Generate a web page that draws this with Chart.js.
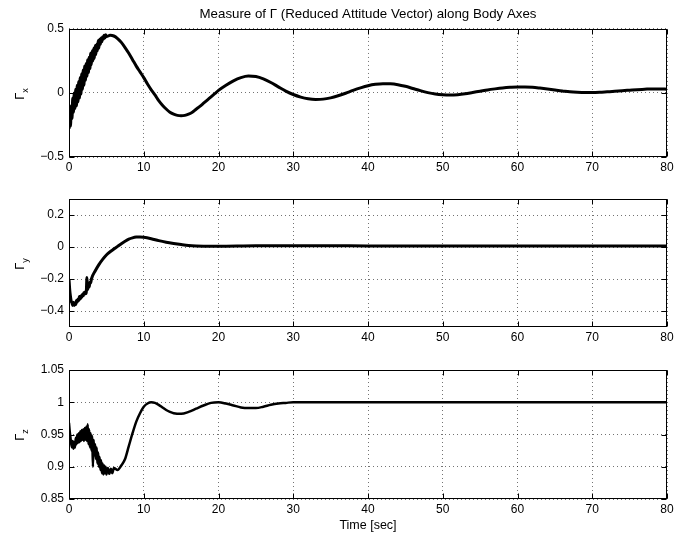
<!DOCTYPE html>
<html><head><meta charset="utf-8">
<script src="https://cdn.jsdelivr.net/npm/chart.js@4"></script>
<style>
html,body{margin:0;padding:0;background:#fff;}
#wrap{position:relative;width:690px;height:538px;overflow:hidden;background:#fff;}
#wrap canvas{position:absolute;left:0;}
.ylab{position:absolute;left:20px;transform:translate(-50%,-50%) rotate(-90deg);font:13px "Liberation Sans",Arial,sans-serif;line-height:13px;white-space:nowrap;color:#000;}
.ylab span{position:relative;top:4px;font-size:9px;}
</style></head><body>
<div id="wrap">
<canvas id="c1" width="690" height="177" style="top:0px"></canvas>
<canvas id="c2" width="690" height="168" style="top:179px"></canvas>
<canvas id="c3" width="690" height="188" style="top:350px"></canvas>
<div class="ylab" style="top:93.5px">Γ<span>x</span></div>
<div class="ylab" style="top:264px">Γ<span>y</span></div>
<div class="ylab" style="top:435px">Γ<span>z</span></div>
</div>
<script>
// ---- data ----
const xTicks = [0,10,20,30,40,50,60,70,80];
const xLabels = ['0','10','20','30','40','50','60','70','80'];
const yTicksX = [-0.5,0,0.5];
const yLabelsX = ['\u22120.5','0','0.5'];
const yTicksY = [-0.4,-0.2,0,0.2];
const yLabelsY = ['\u22120.4','\u22120.2','0','0.2'];
const yTicksZ = [0.85,0.9,0.95,1,1.05];
const yLabelsZ = ['0.85','0.9','0.95','1','1.05'];

const tX = [0,0.1,0.2,0.3,0.4,0.5,0.6,0.7,0.8,0.9,1,1.1,1.2,1.3,1.4,1.5,1.6,1.7,1.8,1.9,2,2.1,2.2,2.3,2.4,2.5,2.6,2.7,2.8,2.9,3,3.1,3.2,3.3,3.4,3.5,3.6,3.7,3.8,3.9,4,4.1,4.2,4.3,4.4,4.5,4.6,4.7,4.8,4.9,5,
 5.5,6,6.5,7,7.5,8,8.5,9,9.5,10,10.5,11,11.5,12,12.5,13,13.5,14,14.5,15,15.5,16,16.5,17,17.5,18,18.5,19,19.5,20,
 21,22,23,24,25,26,27,28,29,30,31,32,33,34,35,36,37,38,39,40,41,42,43,44,45,46,47,48,49,50,51,52,53,54,55,56,57,58,59,60,61,62,63,64,65,66,67,68,69,70,71,72,73,74,75,76,77,78,79,80];
const gammaX = [-0.28,-0.17,-0.26,-0.10,-0.20,-0.04,-0.15,0.00,-0.12,0.03,
 -0.10,0.06,-0.07,0.09,-0.04,0.12,-0.01,0.15,0.03,0.18,
 0.06,0.21,0.10,0.23,0.13,0.26,0.16,0.28,0.19,0.31,
 0.22,0.33,0.25,0.35,0.27,0.37,0.30,0.38,0.33,0.41,
 0.35,0.42,0.38,0.43,0.40,0.44,0.42,0.45,0.43,0.455,0.44,
 0.45,0.445,0.425,0.395,0.355,0.31,0.26,0.21,0.165,0.12,
 0.07,0.025,-0.015,-0.06,-0.095,-0.125,-0.15,-0.165,-0.175,-0.178,
 -0.175,-0.165,-0.15,-0.127,-0.105,-0.08,-0.055,-0.03,-0.005,0.02,
 0.06,0.095,0.12,0.132,0.128,0.11,0.082,0.048,0.015,-0.012,
 -0.032,-0.045,-0.05,-0.048,-0.038,-0.022,-0.002,0.02,0.04,0.057,
 0.068,0.073,0.072,0.065,0.052,0.035,0.018,0.003,-0.008,-0.014,
 -0.016,-0.013,-0.006,0.004,0.014,0.024,0.032,0.039,0.044,0.047,
 0.047,0.044,0.038,0.031,0.023,0.016,0.009,0.005,0.003,0.003,
 0.005,0.009,0.013,0.018,0.022,0.026,0.029,0.032,0.032,0.03];

const tY = [0,0.1,0.2,0.3,0.4,0.5,0.6,0.7,0.8,0.9,1,1.1,1.2,1.3,1.4,1.5,1.6,1.7,1.8,1.9,2,2.1,2.2,2.3,2.4,2.5,2.6,2.7,2.8,2.9,3,
 3.5,4,4.5,5,5.5,6,6.5,7,7.5,8,8.5,9,9.5,10,
 11,12,13,14,15,16,17,18,19,20,
 25,30,35,40,45,50,55,60,65,70,75,80];
const gammaY = [-0.20,-0.27,-0.31,-0.34,-0.35,-0.365,-0.345,-0.365,-0.35,-0.36,
 -0.335,-0.345,-0.325,-0.335,-0.31,-0.325,-0.305,-0.315,-0.295,-0.305,
 -0.285,-0.295,-0.28,-0.29,-0.19,-0.265,-0.235,-0.25,-0.22,-0.225,-0.2,
 -0.15,-0.11,-0.077,-0.05,-0.03,-0.013,0.004,0.021,0.036,0.049,0.057,0.062,0.063,0.061,
 0.052,0.04,0.03,0.022,0.015,0.009,0.006,0.005,0.005,0.005,
 0.008,0.008,0.008,0.007,0.007,0.007,0.007,0.007,0.007,0.007,0.007,0.007];

const tZ = [0,0.1,0.2,0.3,0.4,0.5,0.6,0.7,0.8,0.9,1,1.1,1.2,1.3,1.4,1.5,1.6,1.7,1.8,1.9,2,2.1,2.2,2.3,2.4,2.5,2.6,2.7,2.8,2.9,3,3.1,3.2,3.3,3.4,3.5,3.6,3.7,3.8,3.9,4,4.1,4.2,4.3,4.4,4.5,4.6,4.7,4.8,4.9,5,
 5.2,5.4,5.6,5.8,6,
 6.5,7,7.5,8,8.5,9,9.5,10,10.5,11,11.5,12,12.5,13,13.5,
 14,15,16,17,18,19,20,21,22,23,24,25,26,27,28,29,30,
 35,40,45,50,55,60,65,70,75,80];
const gammaZ = [0.968,0.955,0.945,0.935,0.93,0.94,0.928,0.938,0.93,0.945,
 0.935,0.95,0.937,0.952,0.938,0.955,0.94,0.957,0.942,0.958,
 0.94,0.96,0.942,0.962,0.94,0.966,0.935,0.958,0.93,0.952,
 0.925,0.948,0.90,0.942,0.918,0.935,0.912,0.93,0.905,0.922,
 0.9,0.915,0.895,0.91,0.89,0.905,0.888,0.902,0.89,0.9,0.888,
 0.898,0.889,0.897,0.89,0.898,
 0.895,0.902,0.912,0.932,0.952,0.97,0.983,0.993,0.998,1.0,0.999,0.996,0.992,0.988,0.985,
 0.983,0.982,0.985,0.99,0.995,0.999,1.0,0.998,0.995,0.992,0.991,0.991,0.993,0.996,0.998,0.999,1.0,
 1,1,1,1,1,1,1,1,1,1];

// ---- drawing ----
const FONT = '"Liberation Sans", Arial, Helvetica, sans-serif';

const framePlugin = {
  id: 'frame',
  afterDraw(chart) {
    const {ctx, chartArea: a, scales: {x, y}} = chart;
    const L = Math.round(a.left) + 0.5, R = Math.round(a.right) - 0.5;
    const T = Math.round(a.top) + 0.5, B = Math.round(a.bottom) - 0.5;
    ctx.save();
    ctx.setLineDash([]);
    ctx.strokeStyle = '#000';
    ctx.lineWidth = 1;
    ctx.strokeRect(L, T, R - L, B - T);
    ctx.beginPath();
    x.ticks.forEach(tk => {
      const px = Math.round(x.getPixelForValue(tk.value)) + 0.5;
      ctx.moveTo(px, B); ctx.lineTo(px, B - 5);
      ctx.moveTo(px, T); ctx.lineTo(px, T + 5);
    });
    y.ticks.forEach(tk => {
      const py = Math.round(y.getPixelForValue(tk.value)) + 0.5;
      ctx.moveTo(L, py); ctx.lineTo(L + 5, py);
      ctx.moveTo(R, py); ctx.lineTo(R - 5, py);
    });
    ctx.stroke();
    ctx.restore();
  }
};

function makeChart(id, t, v, cfg) {
  return new Chart(document.getElementById(id), {
    type: 'line',
    data: { datasets: [{
      data: t.map((xx, i) => ({x: xx, y: v[i]})),
      borderColor: '#000', borderWidth: cfg.lw, pointRadius: 0,
      cubicInterpolationMode: 'monotone', fill: false
    }]},
    options: {
      responsive: false, animation: false, devicePixelRatio: 1,
      layout: { padding: { left: 0, right: 23, top: cfg.padTop, bottom: 0 } },
      plugins: {
        legend: { display: false }, tooltip: { enabled: false },
        title: cfg.title || { display: false }
      },
      scales: {
        x: {
          type: 'linear', min: 0, max: 80,
          afterBuildTicks: s => { s.ticks = xTicks.map(value => ({value})); },
          afterFit: s => { s.height = cfg.xh; },
          grid: { color: 'rgba(0,0,0,0.55)', lineWidth: 1, drawTicks: false },
          border: { display: false, dash: [1, 3] },
          ticks: { padding: 3, maxRotation: 0, autoSkip: false, color: '#000',
                   font: { family: FONT, size: 12 }, callback: (val, i) => xLabels[i] },
          title: cfg.xTitle || { display: false }
        },
        y: {
          type: 'linear', min: cfg.yMin, max: cfg.yMax,
          afterBuildTicks: s => { s.ticks = cfg.yT.map(value => ({value})); },
          afterFit: s => { s.width = 69; },
          grid: { color: 'rgba(0,0,0,0.55)', lineWidth: 1, drawTicks: false },
          border: { display: false, dash: [1, 3] },
          ticks: { padding: 5, autoSkip: false, color: '#000',
                   font: { family: FONT, size: 12 }, callback: (val, i) => cfg.yL[i] }
        }
      }
    },
    plugins: [framePlugin]
  });
}

makeChart('c1', tX, gammaX, {
  lw: 3, padTop: 0, xh: 20, yMin: -0.5, yMax: 0.5, yT: yTicksX, yL: yLabelsX,
  title: { display: true, text: 'Measure of \u0393 (Reduced Attitude Vector) along Body Axes',
           fullSize: false, color: '#000', font: { family: FONT, size: 13.3, weight: 'normal' },
           padding: { top: 6, bottom: 7 } }
});
makeChart('c2', tY, gammaY, {
  lw: 3, padTop: 20, xh: 20, yMin: -0.5, yMax: 0.3, yT: yTicksY, yL: yLabelsY
});
makeChart('c3', tZ, gammaZ, {
  lw: 2.5, padTop: 20, xh: 39, yMin: 0.85, yMax: 1.05, yT: yTicksZ, yL: yLabelsZ,
  xTitle: { display: true, text: 'Time [sec]', color: '#000',
            font: { family: FONT, size: 12.5 }, padding: { top: 0, bottom: 5 } }
});
</script>
</body></html>
